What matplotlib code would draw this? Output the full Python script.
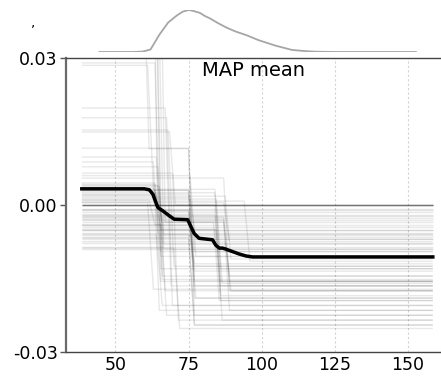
import matplotlib
matplotlib.use("Agg")
import matplotlib.pyplot as plt
import numpy as np

# Feature grid bounds (MAP mean)
x_min, x_max = 38.5, 158.5

# Individual conditional expectation curves: plateau levels and the
# feature values where each curve steps to its next level.
ice_levels = [
    [0.0], [0.0], [0.0], [0.0], [0.0], [0.0], [0.0], [0.0],
    [-0.0008], [-0.0011], [-0.0015], [-0.002], [-0.0022], [-0.0027],
    [-0.0031], [-0.0035], [-0.004], [-0.0045], [-0.005], [-0.0052],
    [-0.0058], [-0.0061], [-0.0065], [-0.007], [-0.0078], [-0.0085],
    [-0.009],
    [0.0045, -0.0105], [0.004, -0.006], [0.0035, -0.0012, -0.012],
    [0.003, -0.0095], [0.0025, -0.013], [0.002, -0.0035, -0.0145],
    [0.0018, -0.011], [0.0015, -0.007], [0.0012, -0.016],
    [0.001, -0.004, -0.0135], [0.0008, -0.0115], [0.0005, -0.0075],
    [0.0038, -0.0175], [0.0028, -0.005, -0.0185], [0.0022, -0.0155],
    [0.0042, -0.0156], [0.0032, -0.0156],
    [0.029, -0.013], [0.0285, 0.003, -0.019], [0.0198, -0.0165],
    [0.0178, -0.0205], [0.0153, -0.0125], [0.0149, 0.0, -0.0195],
    [0.0116, -0.0225], [0.0098, -0.0145], [0.0088, -0.0215],
    [0.0078, -0.009], [0.0065, -0.0235], [0.0055, -0.0175],
    [0.006, -0.0105],
    [0.06, -0.0095], [0.045, -0.0152], [0.08, -0.006, -0.0245],
    [0.05, -0.008], [0.05, 0.0115, -0.0165], [0.07, -0.0035, -0.0195],
    [-0.001, -0.0125], [-0.002, -0.0165], [-0.003, -0.0215],
    [-0.0042, -0.019], [-0.005, -0.0235], [-0.006, -0.0205],
    [-0.0068, -0.0245], [-0.0075, -0.0175], [-0.0088, -0.0252],
    [-0.004, -0.0225], [0.0005, -0.0172], [-0.0025, -0.0156],
]
ice_breaks = [
    [], [], [], [], [], [], [], [],
    [], [], [], [], [], [],
    [], [], [], [], [], [],
    [], [], [], [], [], [],
    [],
    [64.5], [65.5], [64.0, 76.0],
    [76.0], [85.0], [65.0, 88.0],
    [88.5], [76.5], [85.5],
    [62.5, 76.0], [95.0], [88.0],
    [66.0], [64.5, 85.0], [76.0],
    [64.5], [85.0],
    [64.5], [62.0, 76.0], [68.0],
    [68.5], [69.0], [69.5, 85.0],
    [76.0], [65.0], [64.0],
    [65.5], [70.5], [88.0],
    [76.5],
    [64.5], [65.0], [63.5, 76.0],
    [65.5], [60.5, 76.0], [66.0, 84.5],
    [76.0], [85.0], [88.0],
    [76.5], [85.5], [65.0],
    [76.0], [88.5], [71.0],
    [66.5], [62.0], [88.0],
]

# Partial dependence (average of the curves)
pdp_x = [38.5, 59.9, 61.6, 62.8, 63.7, 64.5, 66.2, 68.4, 70.1, 74.7, 75.8,
         76.9, 78.6, 83.2, 84.3, 85.5, 86.6, 87.7, 90.0, 92.3, 94.6, 96.9,
         158.5]
pdp_y = [0.0033, 0.0033, 0.0031, 0.0022, 0.0007, -0.0005, -0.0012,
         -0.0022, -0.0029, -0.0030, -0.0044, -0.0058, -0.0068, -0.0071,
         -0.0082, -0.0088, -0.0088, -0.0090, -0.0095, -0.0100, -0.0104,
         -0.0106, -0.0106]

# Distribution of the feature (scaled density)
dens_x = [44.5, 56.0, 59.3, 62.0, 65.0, 68.0, 71.0, 73.0, 75.0, 76.5, 78.9,
          80.5, 82.3, 85.0, 88.0, 91.0, 94.8, 99.0, 104.8, 110.3, 115.0,
          118.5, 125.0, 152.7]
dens_y = [0.0, 0.0, 0.01, 0.06, 0.41, 0.70, 0.87, 0.96, 1.0, 0.98, 0.93,
          0.86, 0.80, 0.69, 0.58, 0.49, 0.40, 0.28, 0.15, 0.05, 0.02,
          0.007, 0.0, 0.0]

x_ticks = [50, 75, 100, 125, 150]
y_ticks = [-0.03, 0.0, 0.03]
y_tick_labels = ["-0.03", "0.00", "0.03"]

W, H = 441, 376
fig = plt.figure(figsize=(W / 100, H / 100), dpi=100)

ax = fig.add_axes([66 / W, 1 - 352 / H, 1 - 66 / W, 294 / H])
ax_d = fig.add_axes([66 / W, 1 - 52 / H, 1 - 66 / W, 42 / H])

ramp = 1.0
for levels, breaks in zip(ice_levels, ice_breaks):
    xs = [x_min]
    ys = [levels[0]]
    for i, b in enumerate(breaks):
        xs += [b - ramp, b + ramp]
        ys += [levels[i], levels[i + 1]]
    xs.append(x_max)
    ys.append(levels[-1])
    ax.plot(xs, ys, color="k", alpha=0.09, lw=1.0, solid_capstyle="butt")

ax.plot(pdp_x, pdp_y, color="black", lw=2.5, solid_joinstyle="round")

ax.set_xlim(33.1, 161.3)
ax.set_ylim(-0.03, 0.03)
ax.set_xticks(x_ticks)
ax.set_yticks(y_ticks)
ax.set_yticklabels(y_tick_labels)
ax.tick_params(axis="x", length=0, pad=3, labelsize=12.5)
ax.tick_params(axis="y", length=4, width=1, color="#555555", pad=2,
               labelsize=12.5)
ax.grid(axis="x", color="#d4d4d4", lw=0.8, linestyle=(0, (2, 2)))
ax.set_axisbelow(True)
for side in ("top", "bottom"):
    ax.spines[side].set_color("#444444")
    ax.spines[side].set_linewidth(1.0)
ax.spines["left"].set_color("#6a6a6a")
ax.spines["left"].set_linewidth(1.6)
ax.spines["right"].set_visible(False)
ax.text(0.5, 0.957, "MAP mean", transform=ax.transAxes, ha="center",
        va="center", fontsize=14)

ax_d.plot(dens_x, dens_y, color="#a6a6a6", lw=1.3)
ax_d.set_xlim(33.1, 161.3)
ax_d.set_ylim(0, 1.0)
ax_d.axis("off")

fig.text(33 / W, 1 - 22 / H, ",", fontsize=10, ha="center", va="center")

fig.savefig("out.png", dpi=100)
